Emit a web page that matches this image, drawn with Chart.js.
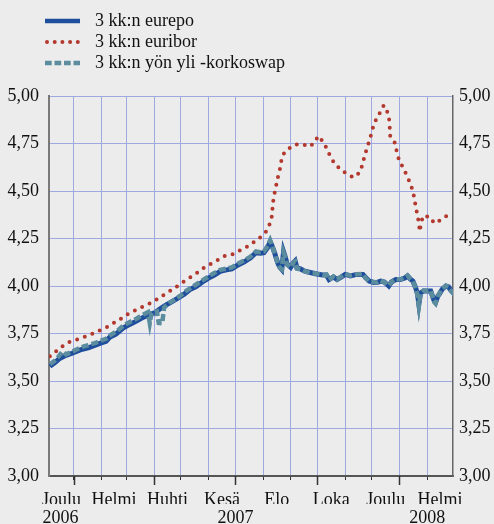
<!DOCTYPE html>
<html>
<head>
<meta charset="utf-8">
<script src="https://cdn.jsdelivr.net/npm/chart.js@4/dist/chart.umd.min.js"></script>
<style>
  html, body { margin: 0; padding: 0; background: #ececec; }
  #wrap { position: relative; width: 494px; height: 524px; }
  #legend { position: absolute; left: 45px; top: 10px; font-family: "Liberation Serif", serif; font-size: 18px; color: #111; }
  .row { display: flex; align-items: center; height: 21px; white-space: nowrap; }
  .row svg { width: 35px; height: 8px; margin-right: 15px; flex: none; }
</style>
</head>
<body>
<div id="wrap">
  <canvas id="chart" width="494" height="524"></canvas>
  <div id="legend"></div>
</div>
<script>
// x values are days counted from 1 Dec 2006
const SERIES_NAMES = ["3 kk:n eurepo", "3 kk:n euribor", "3 kk:n yön yli -korkoswap"];

const eurepoDays = [4, 10, 15, 22, 29, 38, 47, 55, 60, 67, 71, 78, 86, 94, 101, 109, 116, 122, 128, 134,
  141, 148, 155, 161, 168, 175, 182, 188, 195, 202, 208, 215, 222, 229, 235, 240, 244, 248, 251, 253,
  256, 258, 260, 262, 264, 266, 268, 270, 274, 277, 279, 281, 285, 289, 296, 303, 310, 314, 317, 322,
  326, 331, 335, 341, 348, 355, 358, 362, 367, 371, 375, 379, 384, 387, 392, 397, 402, 405, 408, 411,
  414, 416, 417.7, 419.6, 423, 428, 431, 433, 435, 436.4, 439, 441, 444, 448, 451, 453, 455.5, 456.6];
const eurepoRates = [3.577, 3.598, 3.619, 3.635, 3.646, 3.664, 3.675, 3.688, 3.698, 3.709, 3.730, 3.746, 3.778, 3.799, 3.815, 3.836, 3.849, 3.860, 3.881, 3.899,
  3.918, 3.937, 3.958, 3.981, 3.997, 4.021, 4.042, 4.056, 4.077, 4.085, 4.090, 4.111, 4.127, 4.148, 4.175, 4.172, 4.175, 4.201, 4.233, 4.212,
  4.175, 4.143, 4.116, 4.098, 4.087, 4.180, 4.151, 4.116, 4.098, 4.122, 4.132, 4.095, 4.090, 4.079, 4.071, 4.063, 4.058, 4.058, 4.034, 4.048,
  4.034, 4.048, 4.061, 4.053, 4.061, 4.061, 4.045, 4.026, 4.019, 4.019, 4.026, 4.021, 4.000, 4.021, 4.034, 4.034, 4.042, 4.053, 4.037, 4.026,
  3.992, 3.963, 3.905, 3.963, 3.974, 3.974, 3.974, 3.947, 3.921, 3.913, 3.947, 3.960, 3.984, 4.000, 3.995, 3.981, 3.968, 3.974];

const euriborDays = [4, 12, 19, 26.5, 35.5, 43.7, 52.3, 60.2, 68.4, 75.9, 83.4, 91.3, 99.2, 107.4, 115.2, 123.4, 131, 138.8, 145.9, 153.4,
  160.9, 168.4, 175.5, 183, 191.3, 199.1, 207.7, 216.3, 224.5, 231.7, 238.8, 245.5, 249.7, 252.6, 253.4, 254.2, 255.6, 257.5, 259.3, 261.6,
  263.1, 264.9, 271, 278.4, 287.1, 296.1, 301.3, 305, 310.7, 314.8, 318.5, 323, 329.4, 336.8, 344.7, 351.1, 354.1, 356.4, 358.9, 361.5,
  364.2, 366.5, 369.8, 374.3, 378.4, 382.5, 384.4, 385.1, 385.6, 390.4, 392.3, 394.1, 397.9, 401.9, 405.8, 409.2, 411.7, 413.2, 414.8, 416.6,
  418, 418.5, 422.2, 430, 435, 442.4, 449.9];
const euriborRates = [3.630, 3.661, 3.686, 3.707, 3.720, 3.734, 3.750, 3.767, 3.785, 3.806, 3.827, 3.852, 3.871, 3.890, 3.906, 3.928, 3.951, 3.974, 3.996, 4.021,
  4.044, 4.067, 4.092, 4.113, 4.134, 4.157, 4.164, 4.185, 4.205, 4.228, 4.252, 4.279, 4.316, 4.356, 4.398, 4.441, 4.481, 4.524, 4.566, 4.607,
  4.649, 4.689, 4.720, 4.744, 4.746, 4.734, 4.762, 4.790, 4.757, 4.720, 4.681, 4.646, 4.615, 4.591, 4.571, 4.596, 4.633, 4.676, 4.716, 4.755,
  4.797, 4.838, 4.877, 4.914, 4.951, 4.915, 4.875, 4.832, 4.790, 4.758, 4.721, 4.681, 4.642, 4.605, 4.565, 4.526, 4.485, 4.444, 4.404, 4.361,
  4.325, 4.287, 4.369, 4.364, 4.330, 4.348, 4.372];

const swapDays = [4, 9, 14, 18, 22, 28, 35, 42, 48, 55, 61, 67, 72, 79, 86, 94, 101, 108, 114, 116,
  118, 124, 126, 130, 132, 138, 144, 150, 156, 162, 168, 175, 182, 188, 195, 202, 208, 215, 222, 229,
  235, 240, 244, 248, 251, 253, 256, 258, 260, 262, 264, 266, 268, 270, 274, 277, 279, 281, 285, 289,
  296, 303, 310, 314, 317, 322, 326, 331, 335, 341, 348, 355, 358, 362, 367, 371, 375, 379, 384, 387,
  392, 397, 402, 405, 408, 411, 414, 416, 417.7, 419.6, 423, 428, 431, 433, 435, 436.4, 439, 441, 444, 448,
  451, 453, 455.5, 456.6];
const swapRates = [3.588, 3.605, 3.630, 3.655, 3.640, 3.652, 3.668, 3.682, 3.690, 3.700, 3.712, 3.722, 3.742, 3.762, 3.790, 3.812, 3.828, 3.848, 3.862, 3.805,
  3.858, 3.866, 3.805, 3.803, 3.886, 3.912, 3.928, 3.948, 3.972, 3.990, 4.008, 4.030, 4.050, 4.068, 4.085, 4.092, 4.098, 4.118, 4.135, 4.155,
  4.182, 4.178, 4.182, 4.210, 4.240, 4.215, 4.172, 4.140, 4.112, 4.095, 4.088, 4.175, 4.150, 4.112, 4.098, 4.125, 4.130, 4.092, 4.088, 4.080,
  4.068, 4.065, 4.058, 4.060, 4.032, 4.050, 4.035, 4.050, 4.064, 4.055, 4.062, 4.063, 4.042, 4.024, 4.021, 4.018, 4.028, 4.020, 4.002, 4.020,
  4.036, 4.035, 4.044, 4.055, 4.038, 4.024, 3.990, 3.955, 3.895, 3.960, 3.976, 3.972, 3.976, 3.945, 3.915, 3.908, 3.945, 3.962, 3.986, 4.002,
  3.994, 3.980, 3.965, 3.975];

const monthLabels = ["Joulu", "Helmi", "Huhti", "Kesä", "Elo", "Loka", "Joulu", "Helmi"];
const labelMonths = [[2006, 12], [2007, 2], [2007, 4], [2007, 6], [2007, 8], [2007, 10], [2007, 12], [2008, 2]];
const yearLabels = ["2006", "2007", "2008"];
const yearDates = [[2006, 12, 17], [2007, 7, 1], [2008, 2, 1]];
const rateTicks = [3, 3.25, 3.5, 3.75, 4, 4.25, 4.5, 4.75, 5];

const COLORS = { eurepo: "#1f4e9c", euribor: "#b3382e", swap: "#5b8d9e", grid: "#9ea9e2", axis: "#7a7a7a" };

function dayOf(y, m, d) {
  return (Date.UTC(y, m - 1, d) - Date.UTC(2006, 11, 1)) / 864e5;
}
const X_MIN = dayOf(2006, 12, 4);
const X_MAX = dayOf(2008, 3, 1);

const monthStarts = [];
for (let i = 1; i <= 14; i++) monthStarts.push(dayOf(2006, 12 + i, 1));
const quarterStarts = monthStarts.filter((d, i) => i % 3 === 0);
const monthLabelPos = labelMonths.map(([y, m]) => {
  const a = Math.max(dayOf(y, m, 1), X_MIN), b = Math.min(dayOf(y, m + 1, 1), X_MAX);
  return (a + b) / 2;
});
const yearPos = yearDates.map(([y, m, d]) => dayOf(y, m, d));

function pts(xs, ys) { return xs.map((x, i) => ({ x: x, y: ys[i] })); }
const fmt = v => Number(v).toFixed(2).replace(".", ",");

// html legend
const legendStyles = [
  '<line x1="0" y1="4" x2="35" y2="4" stroke="' + COLORS.eurepo + '" stroke-width="4.5"/>',
  '<line x1="2" y1="4" x2="35" y2="4" stroke="' + COLORS.euribor + '" stroke-width="4" stroke-dasharray="0 7.7" stroke-linecap="round"/>',
  '<line x1="0" y1="4" x2="35" y2="4" stroke="' + COLORS.swap + '" stroke-width="4.5" stroke-dasharray="6.7 2.8"/>'
];
document.getElementById("legend").innerHTML = SERIES_NAMES.map((n, i) =>
  '<div class="row"><svg viewBox="0 0 35 8">' + legendStyles[i] + '</svg><span>' + n + '</span></div>').join("");

const quarterTicks = {
  id: "quarterTicks",
  afterDraw(chart) {
    const xs = chart.scales.x, ctx = chart.ctx, b = chart.chartArea.bottom;
    ctx.save();
    ctx.strokeStyle = "#333";
    ctx.lineWidth = 1.5;
    quarterStarts.forEach(d => {
      const px = Math.round(xs.getPixelForValue(d)) + 0.5;
      ctx.beginPath(); ctx.moveTo(px, b); ctx.lineTo(px, b + 9); ctx.stroke();
    });
    ctx.restore();
  }
};

Chart.defaults.font.family = '"Liberation Serif", serif';
Chart.defaults.font.size = 18;
Chart.defaults.color = "#111";

const xBase = { type: "linear", position: "bottom", min: X_MIN, max: X_MAX };

new Chart(document.getElementById("chart"), {
  type: "line",
  data: {
    datasets: [
      { label: SERIES_NAMES[2], data: pts(swapDays, swapRates), borderColor: COLORS.swap, borderWidth: 4.5, borderDash: [7, 3], pointRadius: 0, order: 0 },
      { label: SERIES_NAMES[0], data: pts(eurepoDays, eurepoRates), borderColor: COLORS.eurepo, borderWidth: 5, pointRadius: 0, order: 1 },
      { label: SERIES_NAMES[1], data: pts(euriborDays, euriborRates), borderColor: COLORS.euribor, borderWidth: 4, borderDash: [0, 8.1], borderCapStyle: "round", pointRadius: 0, order: 2 }
    ]
  },
  options: {
    responsive: false,
    animation: false,
    layout: { padding: { top: 96, left: 0, right: 0, bottom: 0 } },
    plugins: { legend: { display: false }, tooltip: { enabled: false } },
    scales: {
      x: Object.assign({}, xBase, {
        weight: 0,
        afterBuildTicks: s => { s.ticks = monthStarts.map(v => ({ value: v })); },
        afterFit: s => { s.height = 4; },
        grid: { color: COLORS.grid, drawTicks: true, tickLength: 4, tickColor: "#333" },
        border: { color: "#555", width: 2 },
        ticks: { display: false }
      }),
      xm: Object.assign({}, xBase, {
        weight: 1,
        afterBuildTicks: s => { s.ticks = monthLabelPos.map(v => ({ value: v })); },
        afterFit: s => { s.height = 24; },
        grid: { display: false, drawTicks: false },
        border: { display: false },
        ticks: { maxRotation: 0, autoSkip: false, padding: 9, callback: (v, i) => monthLabels[i] }
      }),
      xy: Object.assign({}, xBase, {
        weight: 2,
        afterBuildTicks: s => { s.ticks = yearPos.map(v => ({ value: v })); },
        afterFit: s => { s.height = 20; },
        grid: { display: false, drawTicks: false },
        border: { display: false },
        ticks: { maxRotation: 0, autoSkip: false, padding: 3, callback: (v, i) => yearLabels[i] }
      }),
      y: {
        position: "left", min: 3, max: 5,
        afterBuildTicks: s => { s.ticks = rateTicks.map(v => ({ value: v })); },
        afterFit: s => { s.width = 49; },
        grid: { color: COLORS.grid, drawTicks: false },
        border: { color: COLORS.axis, width: 2 },
        ticks: { padding: 10, callback: fmt }
      },
      y2: {
        position: "right", min: 3, max: 5,
        afterBuildTicks: s => { s.ticks = rateTicks.map(v => ({ value: v })); },
        afterFit: s => { s.width = 41; },
        grid: { display: false, drawTicks: false },
        border: { color: "#666", width: 1.5 },
        ticks: { padding: 6, callback: fmt }
      }
    }
  },
  plugins: [quarterTicks]
});
</script>
</body>
</html>
